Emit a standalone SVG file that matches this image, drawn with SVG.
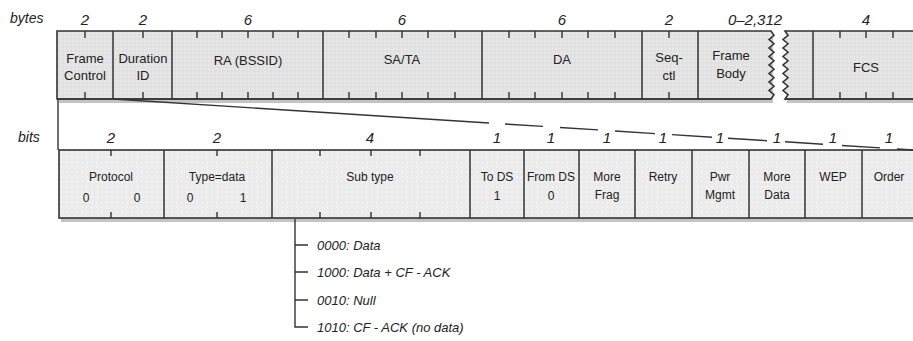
<svg xmlns="http://www.w3.org/2000/svg" width="913" height="341" viewBox="0 0 913 341">
<defs>
<pattern id="dotA" width="4" height="4" patternUnits="userSpaceOnUse"><rect width="4" height="4" fill="#e3e3e3"/><circle cx="1" cy="1" r="0.7" fill="#f0f0f0"/><circle cx="3" cy="3" r="0.6" fill="#d6d6d6"/></pattern>
<pattern id="dotB" width="5" height="5" patternUnits="userSpaceOnUse"><rect width="5" height="5" fill="#ebebeb"/><circle cx="2" cy="2" r="0.8" fill="#fbfbfb"/></pattern>
</defs>
<style>
.bar{stroke:#333;stroke-width:1.6;}
.shadow{fill:#c4c4c4;stroke:none;}
.div{stroke:#333;stroke-width:1.5;}
.tick{stroke:#333;stroke-width:1.4;}
.con{stroke:#333;stroke-width:1.4;fill:none;}
.lbl{font-family:"Liberation Sans",Arial,sans-serif;font-size:13px;fill:#222;text-anchor:middle;}
.blbl{font-family:"Liberation Sans",Arial,sans-serif;font-size:12px;fill:#222;text-anchor:middle;}
.num{font-family:"Liberation Sans",Arial,sans-serif;font-size:15px;font-style:italic;fill:#222;text-anchor:middle;}
.unit{font-family:"Liberation Sans",Arial,sans-serif;font-size:14px;font-style:italic;fill:#222;}
.code{font-family:"Liberation Sans",Arial,sans-serif;font-size:13px;font-style:italic;fill:#222;}
</style>
<rect width="913" height="341" fill="#ffffff"/>

<!-- unit labels -->
<text class="unit" x="10" y="23">bytes</text>
<text class="unit" x="18" y="142">bits</text>

<!-- top frame bar -->
<g id="frame-bar">
<path class="shadow" d="M59,35 H773 V103 H59 Z"/>
<path class="shadow" d="M787,35 H930 V103 H787 Z"/>
<path class="bar" fill="url(#dotA)" d="M57,31 H771 L774,35.25 L769,39.5 L774,43.75 L769,48 L774,52.25 L769,56.5 L774,60.75 L769,65 L774,69.25 L769,73.5 L774,77.75 L769,82 L774,86.25 L769,90.5 L774,94.75 L771,99 H57 Z"/>
<path class="bar" fill="url(#dotA)" d="M930,31 H785 L788,35.25 L783,39.5 L788,43.75 L783,48 L788,52.25 L783,56.5 L788,60.75 L783,65 L788,69.25 L783,73.5 L788,77.75 L783,82 L788,86.25 L783,90.5 L788,94.75 L785,99 H930 Z"/>
<line class="bar" x1="57" y1="99" x2="771" y2="99" stroke-width="2"/>
<line class="bar" x1="785" y1="99" x2="913" y2="99" stroke-width="2"/>
</g>

<g id="frame-control">
<line class="div" x1="113" y1="31" x2="113" y2="99"/>
<path class="tick" d="M85,31 V38 M85,99 V92"/>
<text class="num" x="85" y="25">2</text>
<text class="lbl" x="85" y="63">Frame</text>
<text class="lbl" x="85" y="80">Control</text>
</g>
<g id="duration-id">
<line class="div" x1="172" y1="31" x2="172" y2="99"/>
<path class="tick" d="M143,31 V38 M143,99 V92"/>
<text class="num" x="143" y="25">2</text>
<text class="lbl" x="143" y="63">Duration</text>
<text class="lbl" x="143" y="80">ID</text>
</g>
<g id="ra">
<line class="div" x1="323" y1="31" x2="323" y2="99"/>
<path class="tick" d="M197,31 V38 M222,31 V38 M248,31 V38 M273,31 V38 M298,31 V38 M197,99 V92 M222,99 V92 M248,99 V92 M273,99 V92 M298,99 V92"/>
<text class="num" x="248" y="25">6</text>
<text class="lbl" x="248" y="65">RA (BSSID)</text>
</g>
<g id="sa-ta">
<line class="div" x1="482" y1="31" x2="482" y2="99"/>
<path class="tick" d="M349,31 V38 M376,31 V38 M402,31 V38 M428,31 V38 M455,31 V38 M349,99 V92 M376,99 V92 M402,99 V92 M428,99 V92 M455,99 V92"/>
<text class="num" x="402" y="25">6</text>
<text class="lbl" x="402" y="64">SA/TA</text>
</g>
<g id="da">
<line class="div" x1="642" y1="31" x2="642" y2="99"/>
<path class="tick" d="M509,31 V38 M535,31 V38 M562,31 V38 M588,31 V38 M615,31 V38 M509,99 V92 M535,99 V92 M562,99 V92 M588,99 V92 M615,99 V92"/>
<text class="num" x="562" y="25">6</text>
<text class="lbl" x="562" y="64">DA</text>
</g>
<g id="seq-ctl">
<line class="div" x1="698" y1="31" x2="698" y2="99"/>
<path class="tick" d="M669,31 V38 M669,99 V92"/>
<text class="num" x="669" y="25">2</text>
<text class="lbl" x="669" y="62">Seq-</text>
<text class="lbl" x="669" y="80">ctl</text>
</g>
<g id="frame-body">
<text class="num" x="755" y="25">0–2,312</text>
<text class="lbl" x="731" y="60">Frame</text>
<text class="lbl" x="731" y="78">Body</text>
</g>
<g id="fcs">
<line class="div" x1="813" y1="31" x2="813" y2="99"/>
<path class="tick" d="M840,31 V38 M866,31 V38 M893,31 V38 M840,99 V92 M866,99 V92 M893,99 V92"/>
<text class="num" x="866" y="25">4</text>
<text class="lbl" x="866" y="72">FCS</text>
</g>

<!-- bits bar -->
<g id="bits-bar">
<rect class="shadow" x="61" y="153" width="870" height="69"/>
<rect class="bar" fill="url(#dotB)" x="59" y="150" width="870" height="68"/>
</g>
<g id="protocol">
<line class="div" x1="164" y1="150" x2="164" y2="218"/>
<path class="tick" d="M111,150 V156 M111,218 V212"/>
<text class="num" x="111" y="143">2</text>
<text class="blbl" x="111" y="181">Protocol</text>
<text class="blbl" x="86" y="202">0</text>
<text class="blbl" x="137" y="202">0</text>
</g>
<g id="type">
<line class="div" x1="272" y1="150" x2="272" y2="218"/>
<path class="tick" d="M217,150 V156 M217,218 V212"/>
<text class="num" x="217" y="143">2</text>
<text class="blbl" x="217" y="181">Type=data</text>
<text class="blbl" x="190" y="202">0</text>
<text class="blbl" x="243" y="202">1</text>
</g>
<g id="subtype">
<line class="div" x1="470" y1="150" x2="470" y2="218"/>
<path class="tick" d="M320,150 V156 M371,150 V156 M420,150 V156 M320,218 V212 M371,218 V212 M420,218 V212"/>
<text class="num" x="370" y="143">4</text>
<text class="blbl" x="370" y="181">Sub type</text>
</g>
<g id="to-ds">
<line class="div" x1="524" y1="150" x2="524" y2="218"/>
<text class="num" x="497" y="143">1</text>
<text class="blbl" x="497" y="181">To DS</text>
<text class="blbl" x="497" y="200">1</text>
</g>
<g id="from-ds">
<line class="div" x1="579" y1="150" x2="579" y2="218"/>
<text class="num" x="551" y="143">1</text>
<text class="blbl" x="551" y="181">From DS</text>
<text class="blbl" x="551" y="200">0</text>
</g>
<g id="more-frag">
<line class="div" x1="635" y1="150" x2="635" y2="218"/>
<text class="num" x="607" y="143">1</text>
<text class="blbl" x="607" y="181">More</text>
<text class="blbl" x="607" y="199">Frag</text>
</g>
<g id="retry">
<line class="div" x1="692" y1="150" x2="692" y2="218"/>
<text class="num" x="663" y="143">1</text>
<text class="blbl" x="663" y="181">Retry</text>
</g>
<g id="pwr-mgmt">
<line class="div" x1="749" y1="150" x2="749" y2="218"/>
<text class="num" x="720" y="143">1</text>
<text class="blbl" x="720" y="181">Pwr</text>
<text class="blbl" x="720" y="199">Mgmt</text>
</g>
<g id="more-data">
<line class="div" x1="805" y1="150" x2="805" y2="218"/>
<text class="num" x="777" y="143">1</text>
<text class="blbl" x="777" y="181">More</text>
<text class="blbl" x="777" y="199">Data</text>
</g>
<g id="wep">
<line class="div" x1="862" y1="150" x2="862" y2="218"/>
<text class="num" x="833" y="143">1</text>
<text class="blbl" x="833" y="181">WEP</text>
</g>
<g id="order">
<text class="num" x="889" y="143">1</text>
<text class="blbl" x="889" y="181">Order</text>
</g>

<!-- connectors -->
<g id="connectors">
<line class="con" x1="58" y1="99" x2="58" y2="150"/>
<path class="con" d="M113,99 L489,123 M505,124 L543,126.4 M560,127.5 L598,129.9 M615,131 L655,133.6 M672,134.6 L712,137.2 M728,138.2 L767,140.7 M785,141.8 L823,144.3 M842,145.5 L880,147.9 M897,149 L913,150"/>
<path class="con" d="M295,219 V327 H308 M295,245 H308 M295,272 H308 M295,300 H308"/>
</g>

<g id="subtype-values">
<text class="code" x="317" y="250">0000: Data</text>
<text class="code" x="317" y="277">1000: Data + CF - ACK</text>
<text class="code" x="317" y="305">0010: Null</text>
<text class="code" x="317" y="332">1010: CF - ACK (no data)</text>
</g>
</svg>
